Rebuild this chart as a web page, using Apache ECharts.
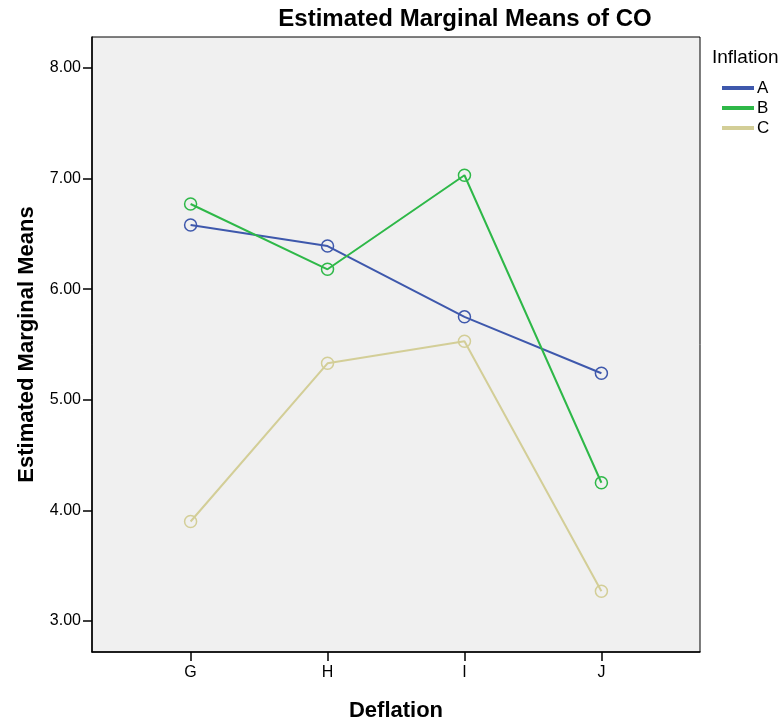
<!DOCTYPE html>
<html>
<head>
<meta charset="utf-8">
<script src="https://cdn.jsdelivr.net/npm/echarts@6/dist/echarts.min.js"></script>
<style>
  html, body { margin: 0; padding: 0; background: #fff; }
  #chart { width: 780px; height: 720px; }
</style>
</head>
<body>
<div id="chart"></div>
<script>
// Deflation levels along the x axis
const deflation = ['G', 'H', 'I', 'J'];
// Estimated marginal means of CO for each Inflation level
const inflationA = [6.58, 6.39, 5.75, 5.24];
const inflationB = [6.77, 6.18, 7.03, 4.25];
const inflationC = [3.90, 5.33, 5.53, 3.27];
const yTicks = [3, 4, 5, 6, 7, 8];

const FONT = "'Liberation Sans', Arial, sans-serif";
const colors = { A: '#3E58AC', B: '#2EB848', C: '#D3CE97' };

function toPoints(vals) {
  return vals.map((v, i) => [i, v]);
}

function lineSeries(name, vals, color) {
  return {
    name: name,
    type: 'line',
    data: toPoints(vals),
    symbol: 'circle',
    symbolSize: 12,
    color: color,
    lineStyle: { color: color, width: 2 },
    itemStyle: { color: 'rgba(0,0,0,0)', borderColor: color, borderWidth: 1.5 },
    emphasis: { disabled: true },
    z: 3
  };
}

const chart = echarts.init(document.getElementById('chart'), null, { renderer: 'canvas' });
chart.setOption({
  animation: false,
  backgroundColor: '#ffffff',
  textStyle: { fontFamily: FONT },
  title: [
    {
      text: 'Estimated Marginal Means of CO',
      left: 465, top: 7, textAlign: 'center', padding: 0,
      textStyle: { fontFamily: FONT, fontSize: 24, fontWeight: 'bold', color: '#000' }
    },
    {
      text: 'Inflation',
      left: 712, top: 48, padding: 0,
      textStyle: { fontFamily: FONT, fontSize: 19, fontWeight: 'normal', color: '#000' }
    }
  ],
  legend: {
    orient: 'vertical',
    left: 722, top: 78,
    padding: 0,
    itemWidth: 30, itemHeight: 2,
    itemGap: 0,
    icon: 'rect',
    textStyle: { fontFamily: FONT, fontSize: 17, lineHeight: 20, color: '#000', padding: [0, 0, 0, -1] },
    data: ['A', 'B', 'C']
  },
  grid: {
    left: 92, top: 37, right: 80, bottom: 68,
    outerBoundsMode: 'none',
    show: true,
    backgroundColor: '#F0F0F0',
    borderColor: '#000',
    borderWidth: 1
  },
  xAxis: {
    type: 'value',
    min: -0.72, max: 3.72,
    name: 'Deflation',
    nameLocation: 'middle',
    nameGap: 48,
    nameTextStyle: { fontFamily: FONT, fontSize: 22, fontWeight: 'bold', color: '#000' },
    axisLine: { show: true, onZero: false, lineStyle: { color: '#000', width: 1.5 } },
    axisTick: { show: true, length: 9, customValues: [0, 1, 2, 3], lineStyle: { color: '#000', width: 1.5 } },
    axisLabel: {
      customValues: [0, 1, 2, 3],
      formatter: v => deflation[Math.round(v)],
      fontFamily: FONT, fontSize: 16, color: '#000', margin: 13
    },
    splitLine: { show: false }
  },
  yAxis: {
    type: 'value',
    min: 2.72, max: 8.28,
    name: 'Estimated Marginal Means',
    nameLocation: 'middle',
    nameGap: 54,
    nameTextStyle: { fontFamily: FONT, fontSize: 22, fontWeight: 'bold', color: '#000' },
    axisLine: { show: true, onZero: false, lineStyle: { color: '#000', width: 1.5 } },
    axisTick: { show: true, length: 9, customValues: yTicks, lineStyle: { color: '#000', width: 1.5 } },
    axisLabel: {
      customValues: yTicks,
      formatter: v => v.toFixed(2),
      fontFamily: FONT, fontSize: 16, color: '#000', margin: 11
    },
    splitLine: { show: false }
  },
  series: [
    lineSeries('A', inflationA, colors.A),
    lineSeries('B', inflationB, colors.B),
    lineSeries('C', inflationC, colors.C)
  ]
});
</script>
</body>
</html>
